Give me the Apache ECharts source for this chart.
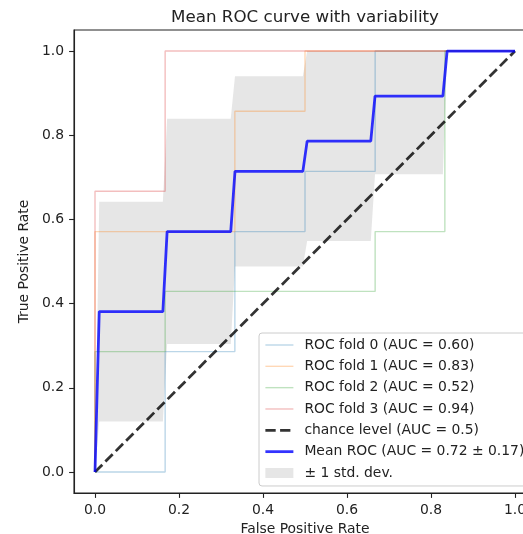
<!DOCTYPE html>
<html>
<head>
<meta charset="utf-8">
<script src="https://cdn.jsdelivr.net/npm/echarts@6/dist/echarts.min.js"></script>
<style>html,body{margin:0;padding:0;background:#fff}#c{width:523px;height:534px}</style>
</head>
<body>
<div id="c"></div>
<script>
// ---- data ----
const tickValues = [0, 0.2, 0.4, 0.6, 0.8, 1.0];

const fold0Fpr = [0, 0.167, 0.167, 0.333, 0.333, 0.5, 0.5, 0.667, 0.667, 1];
const fold0Tpr = [0, 0, 0.286, 0.286, 0.571, 0.571, 0.714, 0.714, 1, 1];
const fold1Fpr = [0, 0, 0.333, 0.333, 0.5, 0.5, 1];
const fold1Tpr = [0, 0.571, 0.571, 0.857, 0.857, 1, 1];
const fold2Fpr = [0, 0, 0.167, 0.167, 0.667, 0.667, 0.833, 0.833, 1];
const fold2Tpr = [0, 0.286, 0.286, 0.429, 0.429, 0.571, 0.571, 1, 1];
const fold3Fpr = [0, 0, 0.167, 0.167, 1];
const fold3Tpr = [0, 0.667, 0.667, 1, 1];

const chanceFpr = [0, 1];
const chanceTpr = [0, 1];

const meanFpr = [0, 0.0101, 0.1616, 0.1717, 0.3232, 0.3333, 0.4949, 0.5051, 0.6566, 0.6667, 0.8283, 0.8384, 1];
const meanTpr = [0, 0.381, 0.381, 0.571, 0.571, 0.714, 0.714, 0.786, 0.786, 0.893, 0.893, 1, 1];
const stdUpper = [0, 0.642, 0.642, 0.839, 0.839, 0.940, 0.940, 1, 1, 1, 1, 1, 1];
const stdLower = [0, 0.120, 0.120, 0.304, 0.304, 0.488, 0.488, 0.549, 0.549, 0.707, 0.707, 1, 1];

const foldNames = ['ROC fold 0 (AUC = 0.60)', 'ROC fold 1 (AUC = 0.83)', 'ROC fold 2 (AUC = 0.52)', 'ROC fold 3 (AUC = 0.94)'];
const chanceName = 'chance level (AUC = 0.5)';
const meanName = 'Mean ROC (AUC = 0.72 \u00b1 0.17)';
const bandName = '\u00b1 1 std. dev.';
const titleText = 'Mean ROC curve with variability';
const xLabel = 'False Positive Rate';
const yLabel = 'True Positive Rate';

// ---- build ----
const zip = (a, b) => a.map((v, i) => [v, b[i]]);
const FONT = 'DejaVu Sans';
const FS = 13.9;
const foldColors = ['rgba(31,119,180,0.3)', 'rgba(255,127,14,0.3)', 'rgba(44,160,44,0.3)', 'rgba(214,39,40,0.3)'];
const foldData = [zip(fold0Fpr, fold0Tpr), zip(fold1Fpr, fold1Tpr), zip(fold2Fpr, fold2Tpr), zip(fold3Fpr, fold3Tpr)];

const series = foldData.map((d, i) => ({
  name: foldNames[i], type: 'line', data: d, symbol: 'none', animation: false,
  color: foldColors[i],
  lineStyle: { color: foldColors[i], width: 1.39 }, itemStyle: { color: foldColors[i] }
}));
series.push({
  name: chanceName, type: 'line', data: zip(chanceFpr, chanceTpr), symbol: 'none', animation: false,
  color: 'rgba(0,0,0,0.8)',
  lineStyle: { color: 'rgba(0,0,0,0.8)', width: 2.78, type: [10.3, 4.4] }, itemStyle: { color: 'rgba(0,0,0,0.8)' }
});
series.push({
  name: meanName, type: 'line', data: zip(meanFpr, meanTpr), symbol: 'none', animation: false,
  color: 'rgba(0,0,255,0.8)',
  lineStyle: { color: 'rgba(0,0,255,0.8)', width: 2.78 }, itemStyle: { color: 'rgba(0,0,255,0.8)' }
});
series.push({
  name: bandName, type: 'custom', animation: false, data: [0],
  color: 'rgba(128,128,128,0.2)',
  itemStyle: { color: 'rgba(128,128,128,0.2)' },
  renderItem: function (params, api) {
    const pts = [];
    for (let i = 0; i < meanFpr.length; i++) pts.push(api.coord([meanFpr[i], stdUpper[i]]));
    for (let i = meanFpr.length - 1; i >= 0; i--) pts.push(api.coord([meanFpr[i], stdLower[i]]));
    return { type: 'polygon', shape: { points: pts }, style: { fill: 'rgba(128,128,128,0.2)' } };
  }
});

const lineLegend = (name, w) => ({ name: name, itemStyle: { opacity: 0 }, lineStyle: { width: w } });
const legendData = foldNames.map(n => lineLegend(n, 1.39));
legendData.push(lineLegend(chanceName, 2.78));
legendData.push(lineLegend(meanName, 2.78));
legendData.push({ name: bandName, icon: 'path://M0,0h28v10h-28z' });

const axisCommon = {
  type: 'value', min: -0.05, max: 1.05,
  splitLine: { show: false },
  axisLine: { show: true, onZero: false, lineStyle: { color: '#222', width: 1.1 } },
  axisTick: { show: true, customValues: tickValues, length: 4.9, lineStyle: { color: '#222', width: 1.1 } },
  axisLabel: { customValues: tickValues, formatter: v => v.toFixed(1), color: '#222', fontSize: FS, fontFamily: FONT },
  nameLocation: 'middle', nameTextStyle: { color: '#222', fontSize: FS, fontFamily: FONT }
};

const chart = echarts.init(document.getElementById('c'), null, { renderer: 'canvas' });
chart.setOption({
  animation: false,
  backgroundColor: '#fff',
  title: {
    text: titleText, left: 305, top: 9, textAlign: 'center', padding: 0,
    textStyle: { fontFamily: FONT, fontSize: 16.7, fontWeight: 'normal', color: '#222' }
  },
  grid: { left: 74, top: 30, width: 462, height: 463, show: true, borderColor: '#222', borderWidth: 1.1, backgroundColor: 'transparent', containLabel: false, outerBoundsMode: 'none' },
  xAxis: Object.assign({}, axisCommon, {
    name: xLabel, nameGap: 28,
    axisLabel: Object.assign({}, axisCommon.axisLabel, { margin: 10 })
  }),
  yAxis: Object.assign({}, axisCommon, {
    name: yLabel, nameGap: 42,
    axisLabel: Object.assign({}, axisCommon.axisLabel, { margin: 10 })
  }),
  legend: {
    orient: 'vertical', left: 259, top: 333, padding: [5, 8, 6, 5],
    itemWidth: 28, itemHeight: 14, itemGap: 7.33,
    borderColor: '#cccccc', borderWidth: 1, borderRadius: 3, backgroundColor: 'rgba(255,255,255,0.8)',
    textStyle: { fontFamily: FONT, fontSize: FS, color: '#222', padding: [0, 0, 0, 6] },
    selectedMode: false,
    data: legendData
  },
  series: series
});
</script>
</body>
</html>
